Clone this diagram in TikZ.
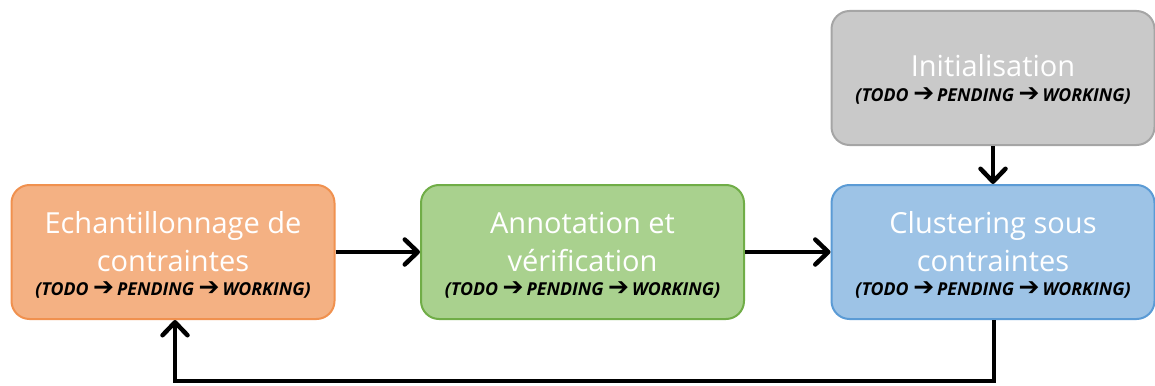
\documentclass[tikz,border=0pt]{standalone}
\usepackage{fontspec}
\setmainfont{Open Sans}
\newfontfamily\symfont{DejaVu Sans}
\usetikzlibrary{arrows.meta}
\definecolor{ofill}{HTML}{F4B183}
\definecolor{oline}{HTML}{F0914F}
\definecolor{gfill}{HTML}{A9D18E}
\definecolor{gline}{HTML}{70AD47}
\definecolor{bfill}{HTML}{9DC3E6}
\definecolor{bline}{HTML}{5B9BD5}
\definecolor{yfill}{HTML}{C9C9C9}
\definecolor{yline}{HTML}{A5A5A5}
\newcommand{\arr}{\smash{\symfont\bfseries\upshape\fontsize{25}{25}\selectfont ➔}}
\newcommand{\sub}{(TODO \arr\,PENDING \arr\,WORKING)}
\tikzset{
  stagebox/.style={draw, line width=2pt, rounded corners=18pt, minimum width=323pt, minimum height=134pt, inner sep=0pt},
  ttl/.style={anchor=base, text=white, font=\fontsize{29}{32}\selectfont, inner sep=0pt},
  subt/.style={anchor=base, text=black, font=\fontsize{17.8}{18}\selectfont\bfseries\itshape, inner sep=0pt},
  flow/.style={line width=4.5pt, -{Straight Barb[length=13pt,width=25pt,line cap=round,line join=round]}}
}
\begin{document}
\begin{tikzpicture}[x=1pt,y=-1pt]
\useasboundingbox (0,0) rectangle (1155,385);
\node[stagebox, fill=ofill, draw=oline] (samp) at (173,252) {};
\node[stagebox, fill=gfill, draw=gline] (annot) at (582.5,252) {};
\node[stagebox, fill=bfill, draw=bline] (clus) at (993,252) {};
\node[stagebox, fill=yfill, draw=yline] (init) at (993,78) {};
\node[ttl] (t1a) at (173,233) {Echantillonnage de};
\node[ttl] (t1b) at (173,271) {contraintes};
\node[subt] (s1) at (173,295) {\sub};
\node[ttl] (t2a) at (582.5,233) {Annotation et};
\node[ttl] (t2b) at (582.5,271) {vérification};
\node[subt] (s2) at (582.5,295) {\sub};
\node[ttl] (t3a) at (993,233) {Clustering sous};
\node[ttl] (t3b) at (993,271) {contraintes};
\node[subt] (s3) at (993,295) {\sub};
\node[ttl] (t4a) at (993,77) {Initialisation};
\node[subt] (s4) at (993,102) {\sub};
\draw[flow] (samp.east) -- (annot.west);
\draw[flow] (annot.east) -- (clus.west);
\draw[flow] (init.south) -- (clus.north);
\coordinate (c1) at (994,381);
\coordinate (c2) at (175,381);
\draw[flow] ([xshift=1pt]clus.south) -- (c1) -- (c2) -- ([xshift=2pt]samp.south);
\end{tikzpicture}
\end{document}
